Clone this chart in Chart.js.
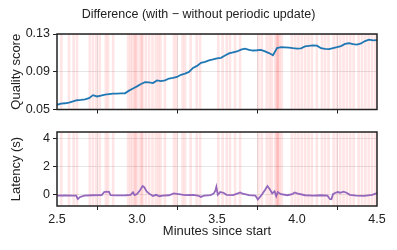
<!DOCTYPE html>
<html>
<head>
<meta charset="utf-8">
<script src="https://cdn.jsdelivr.net/npm/chart.js@4/dist/chart.umd.min.js"></script>
<style>
  html, body { margin: 0; padding: 0; background: #fff; }
  #wrap { position: relative; width: 397px; height: 250px; }
  #top { position: absolute; left: 0; top: 0; }
  #bottom { position: absolute; left: 0; top: 120px; }
</style>
</head>
<body>
<div id="wrap">
  <canvas id="top" width="397" height="120"></canvas>
  <canvas id="bottom" width="397" height="130"></canvas>
</div>
<script>
// minutes since start for the quality curve
const qualityMinutes = [
  2.500, 2.525, 2.550, 2.575, 2.600, 2.625, 2.650, 2.675, 2.700, 2.725,
  2.750, 2.775, 2.800, 2.825, 2.850, 2.875, 2.900, 2.925, 2.950, 2.975,
  3.000, 3.025, 3.050, 3.075, 3.100, 3.125, 3.150, 3.175, 3.200, 3.225,
  3.250, 3.275, 3.300, 3.325, 3.350, 3.375, 3.400, 3.425, 3.450, 3.475,
  3.500, 3.525, 3.550, 3.575, 3.600, 3.625, 3.650, 3.675, 3.700, 3.725,
  3.750, 3.775, 3.800, 3.825, 3.850, 3.875, 3.900, 3.925, 3.950, 3.975,
  4.000, 4.025, 4.050, 4.075, 4.100, 4.125, 4.150, 4.175, 4.200, 4.225,
  4.250, 4.275, 4.300, 4.325, 4.350, 4.375, 4.400, 4.425, 4.450, 4.475,
  4.500
];
const qualityDiff = [
  0.0550, 0.0563, 0.0566, 0.0572, 0.0585, 0.0598, 0.0602, 0.0608, 0.0620, 0.0652,
  0.0638, 0.0648, 0.0658, 0.0664, 0.0668, 0.0668, 0.0670, 0.0672, 0.0700, 0.0722,
  0.0745, 0.0770, 0.0790, 0.0788, 0.0780, 0.0808, 0.0800, 0.0808, 0.0828, 0.0835,
  0.0845, 0.0868, 0.0880, 0.0898, 0.0940, 0.0962, 0.0995, 0.1005, 0.1020, 0.1030,
  0.1042, 0.1048, 0.1072, 0.1095, 0.1105, 0.1115, 0.1135, 0.1145, 0.1132, 0.1125,
  0.1128, 0.1132, 0.1115, 0.1098, 0.1075, 0.1150, 0.1160, 0.1158, 0.1156, 0.1150,
  0.1145, 0.1148, 0.1168, 0.1175, 0.1180, 0.1176, 0.1150, 0.1142, 0.1140, 0.1150,
  0.1160, 0.1172, 0.1195, 0.1202, 0.1192, 0.1188, 0.1200, 0.1225, 0.1240, 0.1232,
  0.1236
];

// latency difference (s)
const latencyMinutes = [
  2.5, 2.55, 2.6, 2.62, 2.63, 2.645, 2.67, 2.72, 2.78, 2.795,
  2.81, 2.825, 2.835, 2.87, 2.93, 2.96, 2.975, 2.985, 3.0, 3.02,
  3.035, 3.045, 3.06, 3.08, 3.1, 3.12, 3.14, 3.16, 3.2, 3.23,
  3.26, 3.3, 3.35, 3.38, 3.4, 3.42, 3.46, 3.48, 3.49, 3.496,
  3.505, 3.52, 3.54, 3.56, 3.6, 3.63, 3.645, 3.66, 3.7, 3.74,
  3.755, 3.765, 3.78, 3.8, 3.815, 3.83, 3.845, 3.86, 3.87, 3.88,
  3.9, 3.94, 3.97, 3.985, 4.0, 4.05, 4.1, 4.15, 4.19, 4.205,
  4.215, 4.225, 4.24, 4.255, 4.27, 4.29, 4.31, 4.33, 4.37, 4.42,
  4.47, 4.495, 4.5
];
const latencyDiff = [
  -0.05, -0.04, -0.05, -0.06, -0.3, -0.15, -0.05, -0.03, -0.02, 0.2,
  0.23, 0.22, -0.02, -0.04, -0.03, 0.0, 0.18, -0.02, 0.05, 0.35,
  0.63, 0.55, 0.25, 0.05, -0.08, 0.0, -0.1, -0.05, -0.03, 0.1,
  0.05, -0.02, 0.0, -0.05, -0.15, -0.05, -0.02, 0.1, 0.3, 0.58,
  0.0, 0.2, 0.15, 0.0, -0.02, 0.1, 0.17, 0.08, -0.02, -0.05,
  -0.33, -0.2, 0.0, 0.35, 0.63, 0.4, 0.1, 0.25, -0.1, 0.2,
  0.05, -0.03, 0.05, 0.17, 0.1, -0.03, -0.05, -0.03, -0.05, -0.3,
  -0.32, 0.05, 0.15, 0.2, 0.15, 0.22, 0.15, 0.0, -0.05, -0.08,
  0.0, 0.1, 0.15
];

// moments of periodic updates (red bands)
const updateMinutes = [
  2.527, 2.575, 2.604, 2.625, 2.705, 2.725, 2.746, 2.767, 2.805, 2.819,
  2.851, 2.945, 2.959, 2.972, 2.986, 2.99, 3.001, 3.018, 3.03, 3.034,
  3.055, 3.076, 3.097, 3.118, 3.133, 3.147, 3.174, 3.231, 3.247, 3.285,
  3.300, 3.335, 3.373, 3.394, 3.508, 3.535, 3.561, 3.581, 3.613, 3.644,
  3.759, 3.780, 3.811, 3.828, 3.842, 3.863, 3.874, 3.878, 3.882, 3.891,
  3.905, 3.968, 3.989, 4.009, 4.030, 4.051, 4.072, 4.093, 4.124, 4.156,
  4.176, 4.197, 4.229, 4.249, 4.270, 4.291, 4.312, 4.333, 4.354, 4.385,
  4.406, 4.427, 4.448, 4.469, 4.490
];

const minuteTicks = [2.5, 3.0, 3.5, 4.0, 4.5];
const qualityTicks = [0.05, 0.09, 0.13];
const latencyTicks = [0, 2, 4];
const qualityRange = [0.05, 0.13];
const latencyRange = [-0.8, 4.5];

Chart.defaults.font.family = '"Liberation Sans", Arial, sans-serif';
Chart.defaults.color = '#222';

// box round the plot area
const frame = {
  id: 'frame',
  afterDatasetsDraw(chart) {
    const {ctx, chartArea: a} = chart;
    ctx.save();
    ctx.strokeStyle = '#222';
    ctx.lineWidth = 1.5;
    ctx.strokeRect(a.left, a.top, a.right - a.left, a.bottom - a.top);
    ctx.restore();
  }
};

function bands(range) {
  return {
    type: 'bar',
    data: updateMinutes.map(m => ({x: m, y: range})),
    backgroundColor: 'rgba(255,0,0,0.1)',
    borderWidth: 0,
    barThickness: 2,
    order: 2
  };
}

function xScale(showLabels, height) {
  return {
    type: 'linear',
    min: 2.5,
    max: 4.5,
    offset: false,
    afterBuildTicks: s => { s.ticks = minuteTicks.map(v => ({value: v})); },
    afterFit: s => { s.height = height; },
    grid: {color: '#e6e6e6', tickColor: '#222', tickLength: 4, lineWidth: 1},
    border: {display: false},
    ticks: {display: showLabels, padding: 2, font: {size: 12.5}, callback: v => v.toFixed(1)},
    title: {display: showLabels, text: 'Minutes since start', font: {size: 13}, padding: {top: 0, bottom: 11}}
  };
}

function yScale(range, ticks, label, fmt) {
  return {
    min: range[0],
    max: range[1],
    afterBuildTicks: s => { s.ticks = ticks.map(v => ({value: v})); },
    afterFit: s => { s.width = 57; },
    grid: {color: '#e6e6e6', tickColor: '#222', tickLength: 4, lineWidth: 1},
    border: {display: false},
    ticks: {padding: 3, font: {size: 12.5}, callback: fmt},
    title: {display: true, text: label, font: {size: 13}, padding: {top: 9}}
  };
}

// empty right-hand strip so the title centres on the whole figure
const spacer = {
  position: 'right',
  afterFit: s => { s.width = 20; },
  grid: {display: false, drawTicks: false},
  border: {display: false},
  ticks: {display: false}
};

new Chart(document.getElementById('top'), {
  type: 'line',
  data: {
    datasets: [
      {
        data: qualityMinutes.map((m, i) => ({x: m, y: qualityDiff[i]})),
        borderColor: '#1f77b4',
        borderWidth: 1.8,
        pointRadius: 0,
        order: 1
      },
      bands(qualityRange)
    ]
  },
  options: {
    responsive: false,
    animation: false,
    layout: {padding: 0},
    plugins: {
      legend: {display: false},
      tooltip: {enabled: false},
      title: {
        display: true,
        text: 'Difference (with \u2212 without periodic update)',
        font: {size: 12.5, weight: 'normal'},
        padding: {top: 7, bottom: 12}
      }
    },
    scales: {
      x: xScale(false, 10),
      y: yScale(qualityRange, qualityTicks, 'Quality score', v => v.toFixed(2)),
      spacer: spacer
    }
  },
  plugins: [frame]
});

new Chart(document.getElementById('bottom'), {
  type: 'line',
  data: {
    datasets: [
      {
        data: latencyMinutes.map((m, i) => ({x: m, y: latencyDiff[i]})),
        borderColor: '#9467bd',
        borderWidth: 1.8,
        pointRadius: 0,
        order: 1
      },
      bands(latencyRange)
    ]
  },
  options: {
    responsive: false,
    animation: false,
    layout: {padding: {left: 0, right: 20, top: 12, bottom: 0}},
    plugins: {
      legend: {display: false},
      tooltip: {enabled: false}
    },
    scales: {
      x: xScale(true, 44),
      y: yScale(latencyRange, latencyTicks, 'Latency (s)', v => String(v))
    }
  },
  plugins: [frame]
});
</script>
</body>
</html>
